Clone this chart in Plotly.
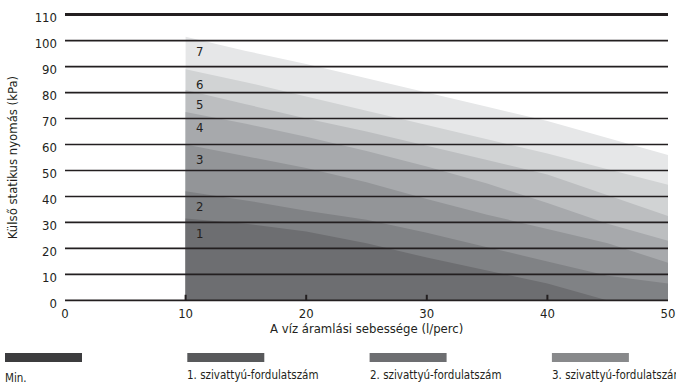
import plotly.graph_objects as go

# Víz áramlási sebessége (l/perc)
flow = [10, 15, 20, 25, 30, 35, 40, 45, 50]

# Külső statikus nyomás (kPa) fokozatonként
speed_1 = [31.5, 29.5, 26.5, 22, 16.5, 11.5, 6.5, 0, 0]
speed_2 = [42, 38.5, 34.5, 31, 26, 20.5, 15, 9.5, 6.5]
speed_3 = [60, 55.5, 51, 45.5, 39, 33, 27.5, 22, 14.5]
speed_4 = [72.5, 68, 63, 57.5, 51.5, 45, 37.5, 29.5, 23]
speed_5 = [81, 75.5, 70, 65, 59.5, 54, 48.5, 40.5, 32.5]
speed_6 = [89, 84, 78.5, 73, 67.5, 62, 56.5, 50.5, 44.5]
speed_7 = [101.5, 96, 91, 85.5, 80, 74.5, 69, 62.5, 56]

band_labels = ['1', '2', '3', '4', '5', '6', '7']
band_colors = ['#6d6e71', '#808285', '#939598', '#a7a9ac', '#bcbec0', '#d1d3d4', '#e6e7e8']

y_ticks = [0, 10, 20, 30, 40, 50, 60, 70, 80, 90, 100, 110]
x_ticks = [0, 10, 20, 30, 40, 50]

legend_names = ['Min.', '1. szivattyú-fordulatszám', '2. szivattyú-fordulatszám', '3. szivattyú-fordulatszám']
legend_colors = ['#3c3c3e', '#58595b', '#6d6e71', '#88898b']

FONT = "Liberation Sans Narrow, DejaVu Sans Condensed, Roboto Condensed, Arial Narrow, Roboto, sans-serif"
INK = '#231f20'

bands = [speed_1, speed_2, speed_3, speed_4, speed_5, speed_6, speed_7]

W, H = 676, 388
PL, PW, PT, PH = 65, 603, 13, 289

def px_x(p):
    return (p - PL) / PW

def px_y(p):
    return (PT + PH - p) / PH

fig = go.Figure()

# legnagyobb fokozat alul, a kisebbek rá
for vals, color, lab in reversed(list(zip(bands, band_colors, band_labels))):
    fig.add_trace(go.Scatter(
        x=flow, y=vals, mode='none', fill='tozeroy', fillcolor=color,
        name=lab, hoverinfo='x+y+name'
    ))

# fokozat számok
for vals, lab in zip(bands, band_labels):
    fig.add_annotation(x=flow[0], y=vals[0], text=lab, showarrow=False,
                       xanchor='left', xshift=8, yanchor='middle', yshift=-15,
                       font=dict(size=13, color=INK, family=FONT))

# vízszintes vonalak a sávok fölött
for v in y_ticks:
    fig.add_shape(type='line', xref='x', yref='y', x0=x_ticks[0], x1=x_ticks[-1],
                  y0=v, y1=v, layer='above',
                  line=dict(color=INK, width=3 if v == y_ticks[-1] else 1.7))

# kis jelölők az x tengelyen
for v in x_ticks[1:-1]:
    fig.add_shape(type='line', xref='x', yref='paper', x0=v, x1=v, y0=0.005, y1=0.025,
                  layer='above', line=dict(color=INK, width=2))

# jelmagyarázat (alul, kézzel)
for i, (name, col) in enumerate(zip(legend_names, legend_colors)):
    left = 5 + i * 182.3
    fig.add_shape(type='rect', xref='paper', yref='paper',
                  x0=px_x(left), x1=px_x(left + 77), y0=px_y(353), y1=px_y(362),
                  fillcolor=col, line=dict(width=0))
    fig.add_annotation(xref='paper', yref='paper', x=px_x(left - 2), y=px_y(378 if i == 0 else 375),
                       text=name, showarrow=False, xanchor='left', yanchor='middle',
                       font=dict(size=11.5, color=INK, family=FONT))

# x tengely címe
fig.add_annotation(xref='paper', yref='paper', x=0.5, y=px_y(328),
                   text='A víz áramlási sebessége (l/perc)', showarrow=False,
                   xanchor='center', yanchor='middle', font=dict(size=13, color=INK, family=FONT))

fig.update_layout(
    width=W, height=H,
    margin=dict(l=PL, r=W - PL - PW, t=PT, b=H - PT - PH),
    plot_bgcolor='white', paper_bgcolor='white',
    showlegend=False,
    font=dict(family=FONT, color=INK, size=12),
)
fig.update_xaxes(range=[0, 50], tickvals=x_ticks, showgrid=False, zeroline=False,
                 showline=False, ticks='', ticklabelstandoff=2, automargin=False,
                 tickfont=dict(size=13))
fig.update_yaxes(range=[-0.6, 110.6], tickvals=y_ticks, showgrid=False, zeroline=False,
                 showline=False, ticks='', ticklabelstandoff=7, ticklabelshift=3,
                 automargin=False, tickfont=dict(size=13),
                 title=dict(text='Külső statikus nyomás (kPa)', standoff=14,
                            font=dict(size=13)))

# a body alapértelmezett margója nélkül
fig.write_html("out.html", config={'displayModeBar': False},
               post_script="document.body.style.margin='0';document.body.style.overflow='hidden';")
